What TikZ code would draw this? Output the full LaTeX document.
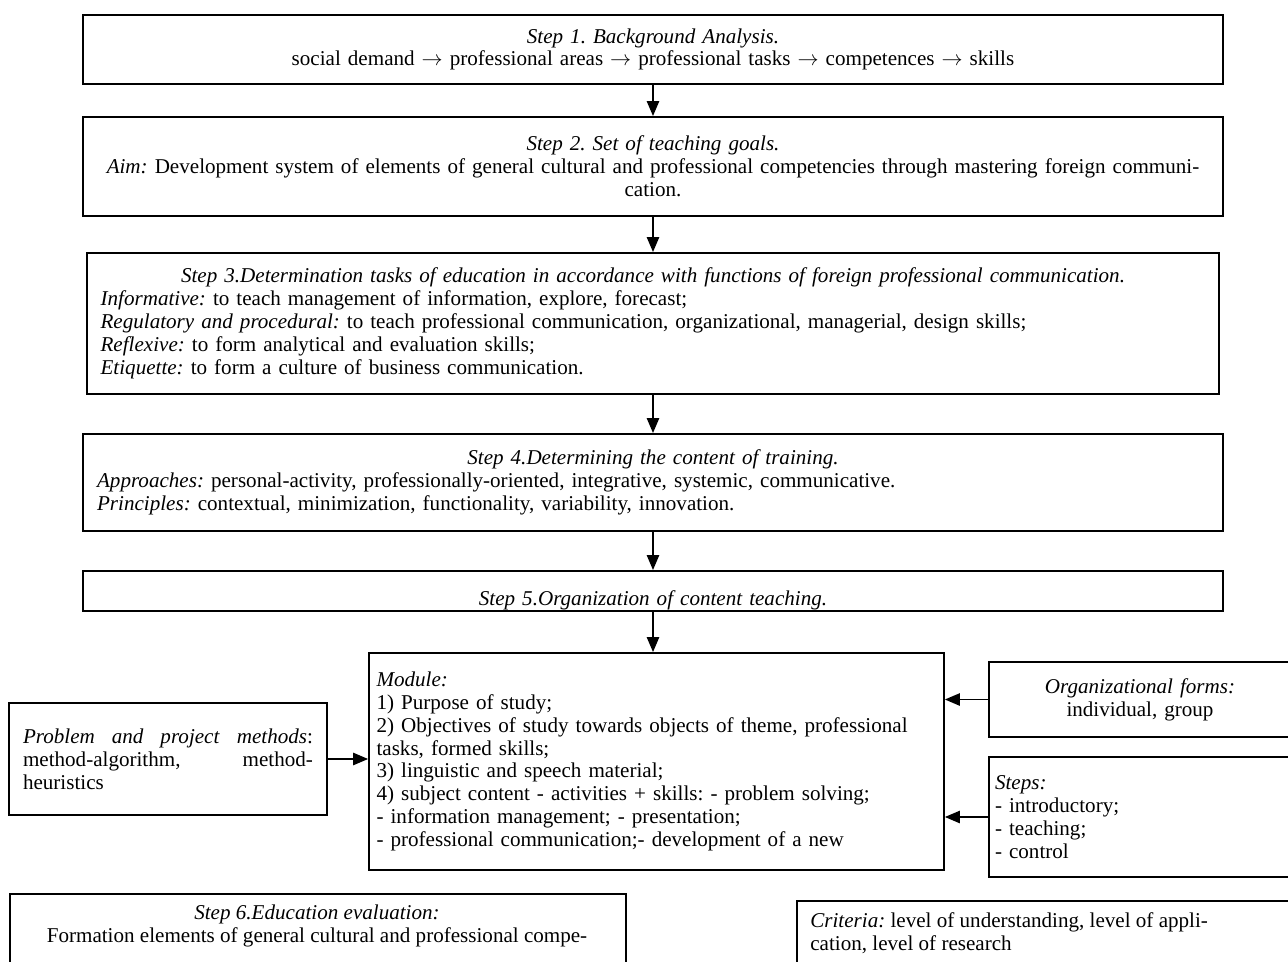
\documentclass[tikz,border=0pt]{standalone}
\usepackage{fontspec}
\setmainfont{Liberation Serif}
\usetikzlibrary{arrows.meta}
\frenchspacing

\begin{document}
\begin{tikzpicture}[x=0.02cm,y=-0.02cm,font=\fontsize{12}{13}\selectfont\frenchspacing,
  stepbox/.style={draw,line width=1.1pt,inner sep=0pt,minimum width=22.8cm,align=center,text width=22.6cm},
  sidebox/.style={draw,line width=1.1pt,inner sep=0pt},
  flow/.style={line width=0.9pt,-{Triangle[width=7pt,length=8.5pt]}}]
  % Page
  \useasboundingbox (0,0) rectangle (1288,962);
  \clip (0,0) rectangle (1288,962);
  % Steps 1 to 5
  \node[stepbox,minimum height=1.38cm] (step1) at (653,49.5)
    {\textit{Step 1. Background Analysis.}\\
     social demand $\rightarrow$ professional areas $\rightarrow$ professional tasks $\rightarrow$ competences $\rightarrow$ skills};
  \node[stepbox,minimum height=1.98cm] (step2) at (653,166.5)
    {\textit{Step 2. Set of teaching goals.}\\
     \textit{Aim:} Development system of elements of general cultural and professional competencies through mastering foreign communi-\\
     cation.};
  \node[stepbox,minimum width=22.64cm,minimum height=2.82cm,align=left,text width=22.1cm] (step3) at (653,323.5)
    {{\centering\itshape Step 3.Determination tasks of education in accordance with functions of foreign professional communication.\par}
     \textit{Informative:} to teach management of information, explore, forecast;\\
     \textit{Regulatory and procedural:} to teach professional communication, organizational, managerial, design skills;\\
     \textit{Reflexive:} to form analytical and evaluation skills;\\
     \textit{Etiquette:} to form a culture of business communication.};
  \node[stepbox,minimum height=1.94cm,align=left,text width=22.24cm] (step4) at (653,482.5)
    {{\centering\itshape Step 4.Determining the content of training.\par}
     \textit{Approaches:} personal-activity, professionally-oriented, integrative, systemic, communicative.\\
     \textit{Principles:} contextual, minimization, functionality, variability, innovation.};
  \node[stepbox,minimum height=0.8cm,text height=16pt,text depth=0pt] (step5) at (653,591)
    {\textit{Step 5.Organization of content teaching.}};
  % Module and its inputs
  \node[sidebox,minimum width=11.5cm,minimum height=4.34cm,align=left,text width=11.2cm] (module) at (656.5,761.5)
    {\textit{Module:}\\
     1) Purpose of study;\\
     2) Objectives of study towards objects of theme, professional\\
     tasks, formed skills;\\
     3) linguistic and speech material;\\
     4) subject content - activities + skills: - problem solving;\\
     - information management; - presentation;\\
     - professional communication;- development of a new};
  \node[sidebox,minimum width=6.36cm,minimum height=2.24cm,align=left,text width=5.8cm] (methods) at (168,759)
    {\makebox[5.8cm][s]{\textit{Problem}\hfill\textit{and}\hfill\textit{project}\hfill\textit{methods}:}\\
     \makebox[5.8cm][s]{method-algorithm,\hfill method-}\\
     heuristics};
  \node[sidebox,minimum width=6.04cm,minimum height=1.5cm,align=center,text width=5.6cm] (forms) at (1140,699.5)
    {\textit{Organizational forms:}\\ individual, group};
  \node[sidebox,minimum width=6.04cm,minimum height=2.4cm,align=left,text width=5.8cm] (stages) at (1140,817)
    {\textit{Steps:}\\ - introductory;\\ - teaching;\\ - control};
  % Step 6 and criteria
  \node[sidebox,anchor=north west,minimum width=12.32cm,minimum height=3cm] (step6) at (9,893) {};
  \node[anchor=north,align=center,inner sep=0pt] (step6txt) at (317,905)
    {\textit{Step 6.Education evaluation:}\\
     Formation elements of general cultural and professional compe-};
  \node[sidebox,anchor=north west,minimum width=10.4cm,minimum height=3cm] (criteria) at (796,900) {};
  \node[anchor=north west,align=left,inner sep=0pt] (criteriatxt) at (810,912)
    {\textit{Criteria:} level of understanding, level of appli-\\
     cation, level of research};
  % Arrows
  \draw[flow] (step1) -- (step2);
  \draw[flow] (step2) -- (step3);
  \draw[flow] (step3) -- (step4);
  \draw[flow] (step4) -- (step5);
  \draw[flow] (step5.south) -- (step5.south |- module.north);
  \draw[flow] (methods.east) -- (methods.east -| module.west);
  \draw[flow] (forms.west) -- (forms.west -| module.east);
  \draw[flow] (stages.west) -- (stages.west -| module.east);
\end{tikzpicture}
\end{document}
